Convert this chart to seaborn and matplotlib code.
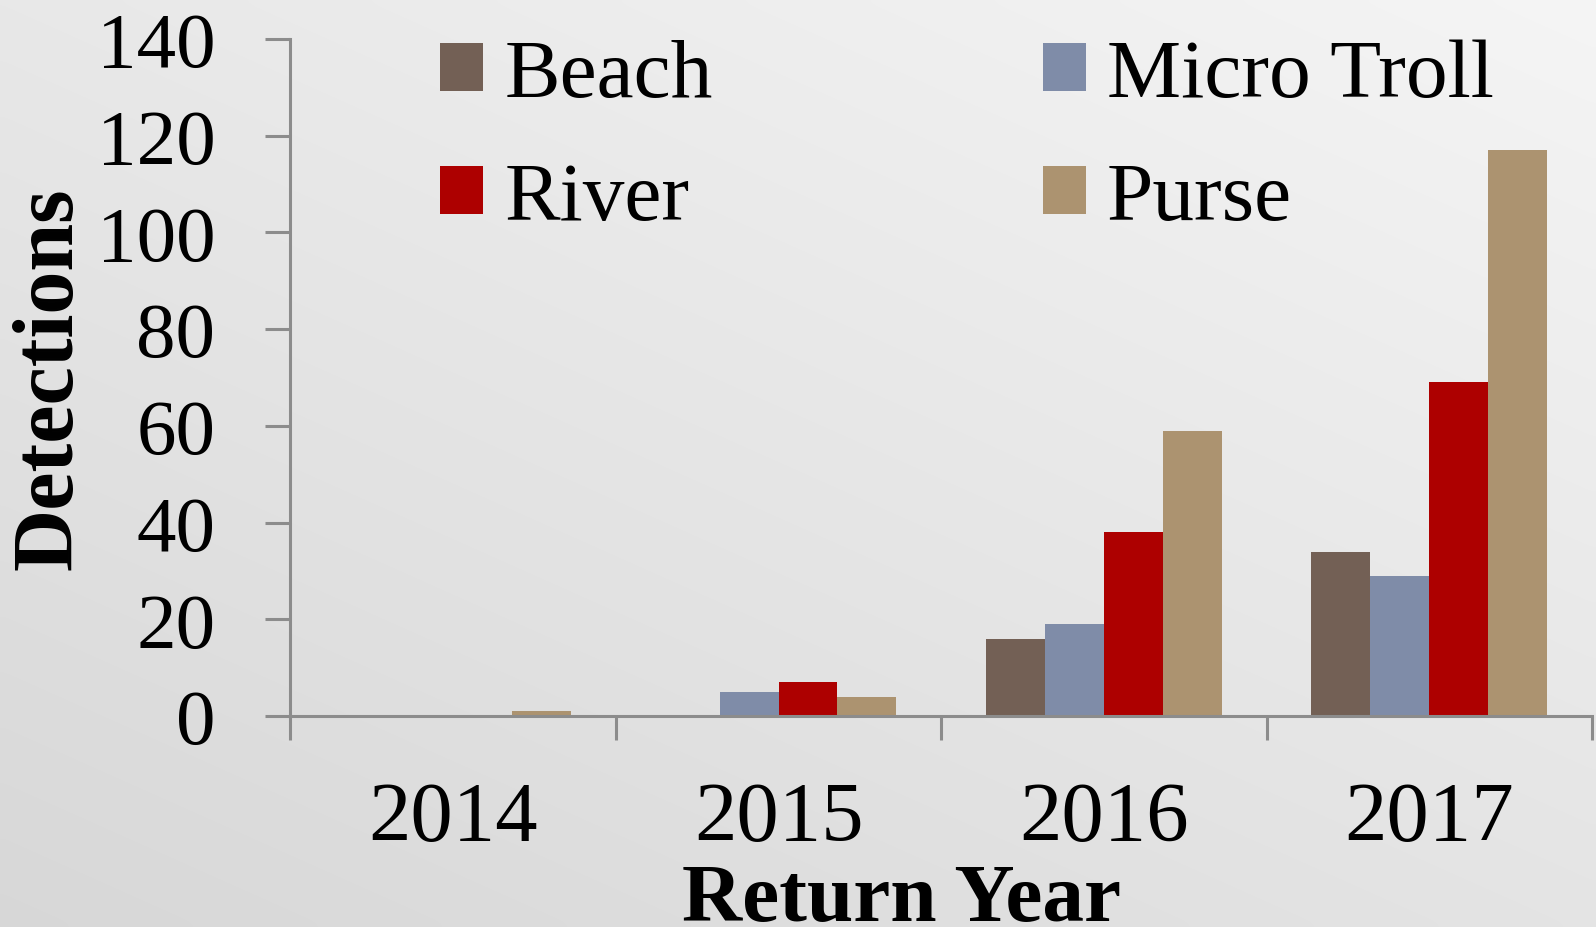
import numpy as np
import pandas as pd
import matplotlib
matplotlib.use("Agg")
import matplotlib.pyplot as plt
import seaborn as sns
from matplotlib.patches import Patch

years = ["2014", "2015", "2016", "2017"]
beach = [0, 0, 16, 34]
micro_troll = [0, 5, 19, 29]
river = [0, 7, 38, 69]
purse = [1, 4, 59, 117]
series_names = ["Beach", "Micro Troll", "River", "Purse"]
colors = ["#736055", "#7f8ca8", "#ad0000", "#ac9370"]

df = pd.DataFrame({
    "Year": np.repeat(years, 4),
    "Method": series_names * len(years),
    "Detections": [v for i in range(len(years)) for v in (beach[i], micro_troll[i], river[i], purse[i])],
})

sns.set_theme(style="white")
plt.rcParams["font.family"] = ["Liberation Serif", "DejaVu Serif"]
plt.rcParams["text.color"] = "black"
plt.rcParams["xtick.labelcolor"] = "black"
plt.rcParams["ytick.labelcolor"] = "black"

W, H = 1596, 928
fig = plt.figure(figsize=(W / 100, H / 100), dpi=100)

# background gradient
bg = fig.add_axes([0, 0, 1, 1], zorder=-10)
gx = np.linspace(0, 1, 200)[None, :]
gy = np.linspace(0, 1, 120)[:, None]
grad = 0.845 + 0.05 * gx + 0.065 * (1 - gy)
bg.imshow(np.dstack([grad] * 3), aspect="auto", extent=[0, 1, 0, 1], interpolation="bicubic")
bg.axis("off")

ax = fig.add_axes([290.4 / W, 1 - 717 / H, (1592 - 290.4) / W, (717 - 40) / H])
ax.patch.set_alpha(0)

sns.barplot(data=df, x="Year", y="Detections", hue="Method", hue_order=series_names,
            palette=colors, width=0.725, saturation=1, ax=ax, legend=False, linewidth=0)

ax.set_xlim(-0.5, 3.5)
ax.set_ylim(0, 140)
ax.set_yticks(np.arange(0, 141, 20))
ax.tick_params(axis="y", labelsize=57, length=18, width=2.2, color="#8c8c8c", pad=36, direction="out", left=True)
ax.set_xticks(np.arange(-0.5, 4, 1), minor=True)
ax.tick_params(axis="x", which="minor", length=17, width=2.2, color="#8c8c8c", bottom=True, direction="out")
ax.tick_params(axis="x", which="major", length=0, labelsize=61, pad=47)

for s in ["top", "right"]:
    ax.spines[s].set_visible(False)
for s in ["left", "bottom"]:
    ax.spines[s].set_color("#8c8c8c")
    ax.spines[s].set_linewidth(2.2)

ax.set_xlabel("")
ax.set_ylabel("")
fig.text(51 / W, 0.5916, "Detections", rotation=90, ha="center", va="center",
         fontsize=62, fontweight="bold")
fig.text(901 / W, 1 - 921 / H, "Return Year", ha="center", va="baseline",
         fontsize=60, fontweight="bold")

order = [0, 2, 1, 3]
handles = [Patch(facecolor=colors[i], edgecolor="none", label=series_names[i]) for i in order]
fig.legend(handles=handles, loc="upper left", bbox_to_anchor=(440 / W, 0.957), ncol=2,
           frameon=False, fontsize=60, handlelength=0.52, handleheight=0.52,
           handletextpad=0.25, columnspacing=3.96, labelspacing=0.57, borderpad=0,
           borderaxespad=0)

fig.savefig("out.png", dpi=100)
